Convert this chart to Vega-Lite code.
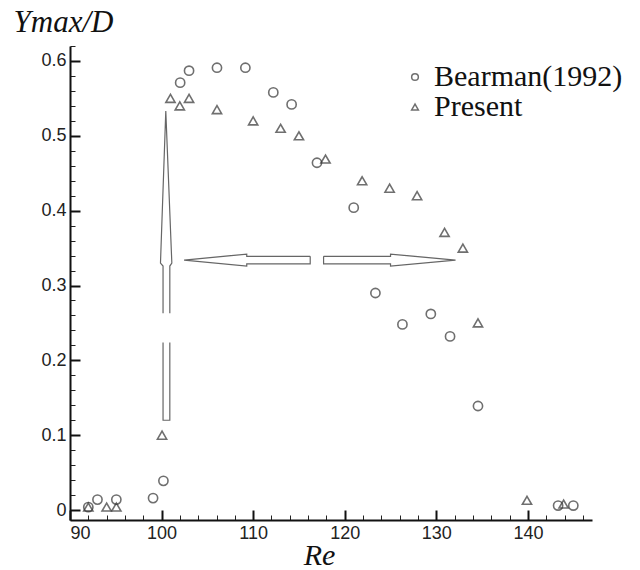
{
  "$schema": "https://vega.github.io/schema/vega-lite/v6.json",
  "width": 522,
  "height": 474,
  "autosize": {"type": "none"},
  "padding": {"left": 70, "top": 46, "right": 48, "bottom": 50},
  "background": "white",
  "config": {"view": {"stroke": null}, "axis": {"grid": false}},
  "datasets": {
    "points": [
      {"series": "Bearman(1992)", "re": 92.0, "ymax": 0.004},
      {"series": "Bearman(1992)", "re": 93.0, "ymax": 0.014},
      {"series": "Bearman(1992)", "re": 95.06, "ymax": 0.014},
      {"series": "Bearman(1992)", "re": 99.07, "ymax": 0.016},
      {"series": "Bearman(1992)", "re": 100.2, "ymax": 0.039},
      {"series": "Bearman(1992)", "re": 102.03, "ymax": 0.571},
      {"series": "Bearman(1992)", "re": 103.0, "ymax": 0.587},
      {"series": "Bearman(1992)", "re": 106.05, "ymax": 0.591},
      {"series": "Bearman(1992)", "re": 109.15, "ymax": 0.591},
      {"series": "Bearman(1992)", "re": 112.2, "ymax": 0.558},
      {"series": "Bearman(1992)", "re": 114.2, "ymax": 0.542},
      {"series": "Bearman(1992)", "re": 116.97, "ymax": 0.464},
      {"series": "Bearman(1992)", "re": 120.98, "ymax": 0.404},
      {"series": "Bearman(1992)", "re": 123.35, "ymax": 0.29},
      {"series": "Bearman(1992)", "re": 126.3, "ymax": 0.248},
      {"series": "Bearman(1992)", "re": 129.4, "ymax": 0.262},
      {"series": "Bearman(1992)", "re": 131.5, "ymax": 0.232},
      {"series": "Bearman(1992)", "re": 134.55, "ymax": 0.139},
      {"series": "Bearman(1992)", "re": 143.3, "ymax": 0.006},
      {"series": "Bearman(1992)", "re": 144.96, "ymax": 0.006},
      {"series": "Present", "re": 92.0, "ymax": 0.004},
      {"series": "Present", "re": 94.0, "ymax": 0.004},
      {"series": "Present", "re": 95.06, "ymax": 0.004},
      {"series": "Present", "re": 100.05, "ymax": 0.1},
      {"series": "Present", "re": 100.97, "ymax": 0.55},
      {"series": "Present", "re": 101.99, "ymax": 0.54},
      {"series": "Present", "re": 103.0, "ymax": 0.55},
      {"series": "Present", "re": 106.05, "ymax": 0.535},
      {"series": "Present", "re": 110.0, "ymax": 0.52},
      {"series": "Present", "re": 113.0, "ymax": 0.51},
      {"series": "Present", "re": 115.0, "ymax": 0.5},
      {"series": "Present", "re": 117.9, "ymax": 0.469},
      {"series": "Present", "re": 121.9, "ymax": 0.44},
      {"series": "Present", "re": 124.9, "ymax": 0.43},
      {"series": "Present", "re": 127.9, "ymax": 0.42},
      {"series": "Present", "re": 130.9, "ymax": 0.371},
      {"series": "Present", "re": 132.9, "ymax": 0.35},
      {"series": "Present", "re": 134.55, "ymax": 0.25},
      {"series": "Present", "re": 139.9, "ymax": 0.013},
      {"series": "Present", "re": 143.9, "ymax": 0.008}
    ],
    "arrows": [
      {"id": "up1", "k": 1, "re": 100.16, "ymax": 0.263},
      {"id": "up1", "k": 2, "re": 100.16, "ymax": 0.326},
      {"id": "up1", "k": 3, "re": 99.88, "ymax": 0.33},
      {"id": "up1", "k": 4, "re": 100.46, "ymax": 0.533},
      {"id": "up1", "k": 5, "re": 101.12, "ymax": 0.33},
      {"id": "up1", "k": 6, "re": 100.9, "ymax": 0.326},
      {"id": "up1", "k": 7, "re": 100.9, "ymax": 0.263},
      {"id": "up2", "k": 1, "re": 100.16, "ymax": 0.224},
      {"id": "up2", "k": 2, "re": 100.16, "ymax": 0.12},
      {"id": "up2", "k": 3, "re": 100.9, "ymax": 0.12},
      {"id": "up2", "k": 4, "re": 100.9, "ymax": 0.224},
      {"id": "left", "k": 1, "re": 116.23, "ymax": 0.339},
      {"id": "left", "k": 2, "re": 109.3, "ymax": 0.339},
      {"id": "left", "k": 3, "re": 109.3, "ymax": 0.342},
      {"id": "left", "k": 4, "re": 102.46, "ymax": 0.334},
      {"id": "left", "k": 5, "re": 109.3, "ymax": 0.326},
      {"id": "left", "k": 6, "re": 109.3, "ymax": 0.329},
      {"id": "left", "k": 7, "re": 116.23, "ymax": 0.329},
      {"id": "left", "k": 8, "re": 116.23, "ymax": 0.339},
      {"id": "right", "k": 1, "re": 117.69, "ymax": 0.339},
      {"id": "right", "k": 2, "re": 125.0, "ymax": 0.339},
      {"id": "right", "k": 3, "re": 125.0, "ymax": 0.342},
      {"id": "right", "k": 4, "re": 132.1, "ymax": 0.334},
      {"id": "right", "k": 5, "re": 125.0, "ymax": 0.326},
      {"id": "right", "k": 6, "re": 125.0, "ymax": 0.329},
      {"id": "right", "k": 7, "re": 117.69, "ymax": 0.329},
      {"id": "right", "k": 8, "re": 117.69, "ymax": 0.339}
    ]
  },
  "layer": [
    {
      "data": {"name": "arrows"},
      "mark": {"type": "line", "stroke": "#666666", "strokeWidth": 1.2},
      "encoding": {
        "x": {
          "field": "re", "type": "quantitative",
          "scale": {"domain": [90, 147], "nice": false, "zero": false},
          "axis": {
            "orient": "bottom",
            "values": [92, 94, 96, 98, 102, 104, 106, 108, 112, 114, 116, 118, 122, 124, 126, 128, 132, 134, 136, 138, 142, 144, 146],
            "labels": false, "domain": false, "tickSize": -5, "tickWidth": 1, "tickColor": "#222222", "title": null
          }
        },
        "y": {
          "field": "ymax", "type": "quantitative",
          "scale": {"domain": [-0.0133, 0.62], "nice": false, "zero": false},
          "axis": {
            "orient": "left",
            "values": [0.02, 0.04, 0.06, 0.08, 0.12, 0.14, 0.16, 0.18, 0.22, 0.24, 0.26, 0.28, 0.32, 0.34, 0.36, 0.38, 0.42, 0.44, 0.46, 0.48, 0.52, 0.54, 0.56, 0.58, 0.62],
            "labels": false, "domain": false, "tickSize": -5, "tickWidth": 1, "tickColor": "#222222", "title": null
          }
        },
        "detail": {"field": "id", "type": "nominal"},
        "order": {"field": "k", "type": "quantitative"}
      }
    },
    {
      "data": {"name": "points"},
      "mark": {"type": "point", "filled": false, "strokeWidth": 1.6, "size": 85, "color": "#333333"},
      "encoding": {
        "x": {
          "field": "re", "type": "quantitative",
          "scale": {"domain": [90, 147], "nice": false, "zero": false},
          "axis": {
            "orient": "bottom",
            "values": [90, 100, 110, 120, 130, 140],
            "tickSize": -10, "tickWidth": 2, "tickColor": "#111111",
            "domainWidth": 2, "domainColor": "#111111",
            "labelFont": "Liberation Sans", "labelFontSize": 18, "labelColor": "#222222", "labelPadding": 14,
            "title": "Re", "titleFont": "Liberation Serif", "titleFontStyle": "italic", "titleFontWeight": "normal",
            "titleFontSize": 30, "titleColor": "#111111",
            "titleX": 249, "titleY": 44, "titleAlign": "center", "titleBaseline": "alphabetic"
          }
        },
        "y": {
          "field": "ymax", "type": "quantitative",
          "scale": {"domain": [-0.0133, 0.62], "nice": false, "zero": false},
          "axis": {
            "orient": "left",
            "values": [0, 0.1, 0.2, 0.3, 0.4, 0.5, 0.6],
            "format": ".1~f",
            "tickSize": -10, "tickWidth": 2, "tickColor": "#111111",
            "domainWidth": 2, "domainColor": "#111111",
            "labelFont": "Liberation Sans", "labelFontSize": 18, "labelColor": "#222222", "labelPadding": 14,
            "title": "Ymax/D", "titleFont": "Liberation Serif", "titleFontStyle": "italic", "titleFontWeight": "normal",
            "titleFontSize": 31, "titleColor": "#111111", "titleAngle": 0,
            "titleX": -57, "titleY": -15, "titleAlign": "left", "titleBaseline": "alphabetic"
          }
        },
        "shape": {
          "field": "series", "type": "nominal",
          "scale": {"domain": ["Bearman(1992)", "Present"], "range": ["circle", "triangle-up"]},
          "legend": {
            "orient": "none", "legendX": 330, "legendY": 16, "title": null, "padding": 0,
            "symbolSize": 45, "symbolStrokeWidth": 1.5, "symbolStrokeColor": "#333333", "symbolFillColor": "transparent",
            "labelFont": "Liberation Serif", "labelFontSize": 30, "labelColor": "#111111", "labelOffset": 4,
            "labelLimit": 0, "rowPadding": 0
          }
        }
      }
    }
  ],
  "resolve": {
    "scale": {"x": "independent", "y": "independent"},
    "axis": {"x": "independent", "y": "independent"}
  }
}
